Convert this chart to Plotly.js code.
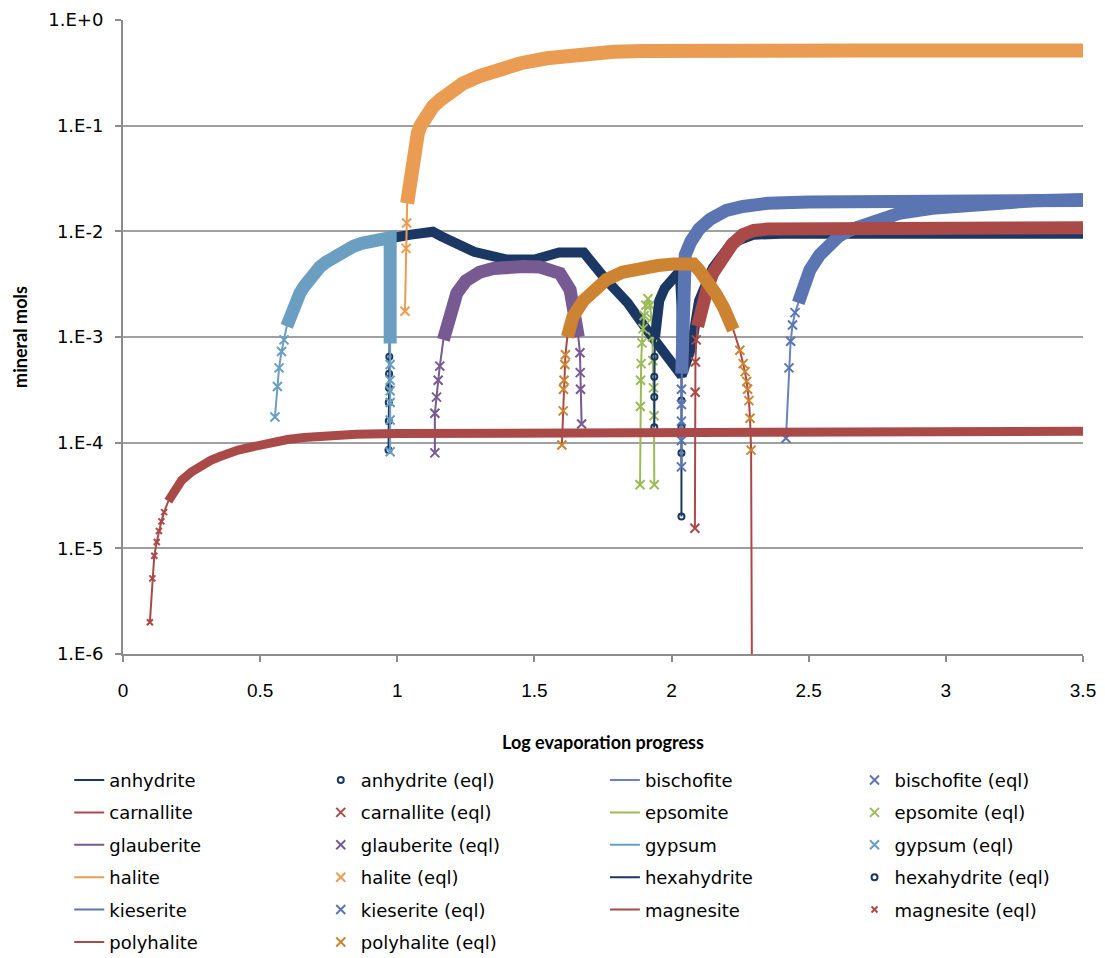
<!DOCTYPE html>
<html><head><meta charset="utf-8">
<script src="https://cdn.plot.ly/plotly-3.0.1.min.js"></script>
<style>body{margin:0;background:#fff}#chart{width:1105px;height:958px}</style>
</head><body><div id="chart"></div>
<script>
// ---- data ----
const yTickVals = [1, 0.1, 0.01, 0.001, 0.0001, 0.00001, 0.000001];
const yTickText = ['1.E+0', '1.E-1', '1.E-2', '1.E-3', '1.E-4', '1.E-5', '1.E-6'];

const anhydriteX = [0.968, 0.969, 0.969, 0.970, 0.970, 0.971, 0.972, 0.973, 0.975, 1.05, 1.13, 1.16, 1.28, 1.40, 1.50, 1.59, 1.68, 1.76, 1.84, 1.91, 1.98, 2.037, 2.073, 2.10, 2.15, 2.22, 2.30, 2.40, 3.0, 3.5];
const anhydriteY = [8.5e-5, 1.6e-4, 2.4e-4, 3.3e-4, 4.5e-4, 6.5e-4, 1.0e-3, 3.0e-3, 8.6e-3, 9.3e-3, 9.9e-3, 9.0e-3, 6.4e-3, 5.4e-3, 5.4e-3, 6.3e-3, 6.3e-3, 3.5e-3, 2.1e-3, 1.17e-3, 7.0e-4, 4.3e-4, 8.1e-4, 2.2e-3, 4.5e-3, 7.8e-3, 9.3e-3, 9.5e-3, 9.5e-3, 9.5e-3];

const bischofiteX = [2.417, 2.428, 2.434, 2.441, 2.45, 2.462, 2.48, 2.504, 2.54, 2.577, 2.61, 2.65, 2.74, 2.83, 2.95, 3.076, 3.2, 3.32, 3.5];
const bischofiteY = [1.1e-4, 5.1e-4, 9.1e-4, 1.3e-3, 1.7e-3, 2.1e-3, 3.0e-3, 4.3e-3, 6.0e-3, 7.7e-3, 9.0e-3, 1.03e-2, 1.27e-2, 1.48e-2, 1.65e-2, 1.78e-2, 1.88e-2, 1.95e-2, 2.0e-2];

const carnalliteX = [2.085, 2.086, 2.087, 2.09, 2.095, 2.11, 2.13, 2.15, 2.18, 2.22, 2.26, 2.30, 2.35, 2.6, 3.0, 3.5];
const carnalliteY = [1.55e-5, 3.0e-4, 5.8e-4, 9.4e-4, 1.26e-3, 1.9e-3, 2.9e-3, 4.0e-3, 5.4e-3, 7.5e-3, 9.3e-3, 1.02e-2, 1.05e-2, 1.06e-2, 1.07e-2, 1.08e-2];

const epsomiteX = [1.885, 1.886, 1.887, 1.889, 1.892, 1.896, 1.900, 1.906, 1.914, 1.922, 1.927, 1.930, 1.932, 1.934, 1.936, 1.937];
const epsomiteY = [4.0e-5, 2.2e-4, 3.9e-4, 5.6e-4, 8.8e-4, 1.2e-3, 1.6e-3, 2.0e-3, 2.3e-3, 2.0e-3, 1.5e-3, 1.0e-3, 6.0e-4, 3.3e-4, 1.8e-4, 4.0e-5];

const glauberiteX = [1.137, 1.137, 1.143, 1.149, 1.155, 1.168, 1.19, 1.217, 1.25, 1.30, 1.35, 1.399, 1.46, 1.52, 1.56, 1.593, 1.63, 1.642, 1.66, 1.666, 1.667, 1.668, 1.672];
const glauberiteY = [8.0e-5, 1.9e-4, 2.7e-4, 3.9e-4, 5.3e-4, 9.4e-4, 1.6e-3, 2.6e-3, 3.4e-3, 4.1e-3, 4.45e-3, 4.6e-3, 4.65e-3, 4.6e-3, 4.4e-3, 4.0e-3, 2.8e-3, 1.7e-3, 1.0e-3, 7.1e-4, 4.6e-4, 3.2e-4, 1.5e-4];

const gypsumX = [0.554, 0.563, 0.569, 0.578, 0.587, 0.597, 0.607, 0.620, 0.630, 0.645, 0.660, 0.68, 0.70, 0.718, 0.74, 0.78, 0.81, 0.839, 0.87, 0.90, 0.93, 0.961, 0.974, 0.974, 0.974, 0.974, 0.974, 0.974, 0.974, 0.974, 0.974];
const gypsumY = [1.75e-4, 3.4e-4, 5.1e-4, 7.3e-4, 9.4e-4, 1.26e-3, 1.5e-3, 1.9e-3, 2.2e-3, 2.6e-3, 3.0e-3, 3.6e-3, 4.1e-3, 4.6e-3, 5.1e-3, 6.0e-3, 6.6e-3, 7.2e-3, 7.7e-3, 8.0e-3, 8.3e-3, 8.6e-3, 8.7e-3, 3.0e-3, 8.7e-4, 5.5e-4, 3.9e-4, 3.1e-4, 2.4e-4, 1.64e-4, 8.2e-5];

const haliteX = [1.028, 1.032, 1.034, 1.036, 1.040, 1.045, 1.052, 1.058, 1.065, 1.075, 1.085, 1.095, 1.11, 1.13, 1.156, 1.19, 1.24, 1.30, 1.362, 1.45, 1.545, 1.65, 1.788, 1.90, 2.03, 2.3, 2.7, 3.1, 3.5];
const haliteY = [1.75e-3, 6.9e-3, 1.2e-2, 1.84e-2, 2.3e-2, 3.0e-2, 4.1e-2, 5.3e-2, 6.8e-2, 8.5e-2, 0.10, 0.113, 0.133, 0.152, 0.175, 0.21, 0.252, 0.295, 0.336, 0.39, 0.434, 0.47, 0.50, 0.51, 0.515, 0.515, 0.515, 0.515, 0.515];

const hexahydriteX = [1.937, 1.937, 1.937, 1.938, 1.94, 1.945, 1.955, 1.975, 2.005, 2.03, 2.036, 2.036, 2.036, 2.036, 2.036, 2.036];
const hexahydriteY = [1.4e-4, 2.7e-4, 4.2e-4, 6.5e-4, 1.0e-3, 1.6e-3, 2.2e-3, 2.9e-3, 3.6e-3, 4.2e-3, 2.0e-3, 5.0e-4, 2.5e-4, 1.4e-4, 8.0e-5, 2.0e-5];

const kieseriteX = [2.036, 2.036, 2.036, 2.036, 2.036, 2.037, 2.038, 2.04, 2.05, 2.07, 2.10, 2.14, 2.20, 2.26, 2.35, 2.5, 2.8, 3.2, 3.5];
const kieseriteY = [5.9e-5, 1.05e-4, 1.6e-4, 2.3e-4, 3.2e-4, 4.5e-4, 1.5e-3, 4.0e-3, 6.0e-3, 8.0e-3, 1.05e-2, 1.30e-2, 1.58e-2, 1.72e-2, 1.84e-2, 1.90e-2, 1.93e-2, 1.95e-2, 1.96e-2];

const magnesiteX = [0.098, 0.107, 0.114, 0.123, 0.131, 0.14, 0.15, 0.165, 0.19, 0.214, 0.25, 0.29, 0.32, 0.354, 0.385, 0.42, 0.46, 0.5, 0.55, 0.6, 0.66, 0.72, 0.8, 0.85, 1.0, 1.5, 2.0, 2.5, 3.0, 3.5];
const magnesiteY = [2.0e-6, 5.2e-6, 8.5e-6, 1.15e-5, 1.46e-5, 1.8e-5, 2.2e-5, 2.8e-5, 3.6e-5, 4.4e-5, 5.3e-5, 6.2e-5, 6.8e-5, 7.4e-5, 8.0e-5, 8.5e-5, 9.0e-5, 9.5e-5, 1.01e-4, 1.07e-4, 1.12e-4, 1.16e-4, 1.19e-4, 1.2e-4, 1.22e-4, 1.24e-4, 1.25e-4, 1.26e-4, 1.27e-4, 1.28e-4];

const polyhaliteX = [1.600, 1.605, 1.606, 1.608, 1.611, 1.613, 1.62, 1.64, 1.678, 1.72, 1.763, 1.82, 1.885, 1.95, 2.006, 2.08, 2.10, 2.128, 2.16, 2.19, 2.225, 2.249, 2.261, 2.268, 2.274, 2.277, 2.282, 2.286, 2.290, 2.294];
const polyhaliteY = [9.5e-5, 2.0e-4, 3.2e-4, 3.9e-4, 5.5e-4, 6.8e-4, 1.0e-3, 1.55e-3, 2.2e-3, 2.9e-3, 3.5e-3, 4.1e-3, 4.5e-3, 4.75e-3, 4.9e-3, 4.9e-3, 4.3e-3, 3.5e-3, 2.6e-3, 1.9e-3, 1.17e-3, 7.5e-4, 5.6e-4, 4.7e-4, 3.8e-4, 3.2e-4, 2.5e-4, 1.7e-4, 8.5e-5, 1e-7];

// ---- drawing ----
const NAVY = '#1B3763', RED = '#A94A48', PURPLE = '#775A92', ORANGE = '#EA9C53',
      BLUE = '#5B75B2', BLUE2 = '#6A82C0', GREEN = '#9BBB59', LBLUE = '#6A9FC2', DORANGE = '#CC8433';

const traces = [];
function addMineral(name, x, y, band, o) {
  traces.push({type: 'scatter', mode: 'lines', name: name, x: x, y: y,
    line: {color: o.lineColor, width: 2}, legend: o.lineLegend, legendgroup: name + '_l', hoverinfo: 'skip'});
  if (band) {
    traces.push({type: 'scatter', mode: 'lines', x: x.slice(band[0], band[1] + 1), y: y.slice(band[0], band[1] + 1),
      line: {color: o.eqlColor, width: o.bandWidth || 13}, showlegend: false, hoverinfo: 'skip'});
  }
  const mx = [], my = [];
  x.forEach((v, i) => { if (!band || i < band[0] || i > band[1]) { mx.push(v); my.push(y[i]); } });
  traces.push({type: 'scatter', mode: 'markers', name: name + ' (eql)', x: mx, y: my,
    marker: {symbol: o.symbol, size: o.size, color: o.eqlColor, line: {color: o.eqlColor, width: 2}},
    legend: o.eqlLegend, legendgroup: name + '_e', hoverinfo: 'skip'});
}
const X = 'x-thin-open', C = 'circle-open';
addMineral('anhydrite', anhydriteX, anhydriteY, [6, 29], {lineColor: NAVY, eqlColor: NAVY, symbol: C, size: 6, lineLegend: 'legend', eqlLegend: 'legend2', bandWidth: 10});
addMineral('bischofite', bischofiteX, bischofiteY, [5, 18], {lineColor: BLUE2, eqlColor: BLUE, symbol: X, size: 9, lineLegend: 'legend3', eqlLegend: 'legend4'});
addMineral('carnallite', carnalliteX, carnalliteY, [4, 15], {lineColor: RED, eqlColor: RED, symbol: X, size: 9, lineLegend: 'legend', eqlLegend: 'legend2'});
addMineral('epsomite', epsomiteX, epsomiteY, null, {lineColor: GREEN, eqlColor: GREEN, symbol: X, size: 9, lineLegend: 'legend3', eqlLegend: 'legend4'});
addMineral('glauberite', glauberiteX, glauberiteY, [5, 18], {lineColor: PURPLE, eqlColor: PURPLE, symbol: X, size: 9, lineLegend: 'legend', eqlLegend: 'legend2'});
addMineral('gypsum', gypsumX, gypsumY, [5, 24], {lineColor: LBLUE, eqlColor: LBLUE, symbol: X, size: 9, lineLegend: 'legend3', eqlLegend: 'legend4'});
addMineral('halite', haliteX, haliteY, [3, 28], {lineColor: ORANGE, eqlColor: ORANGE, symbol: X, size: 9, lineLegend: 'legend', eqlLegend: 'legend2', bandWidth: 14});
addMineral('hexahydrite', hexahydriteX, hexahydriteY, [4, 11], {lineColor: NAVY, eqlColor: NAVY, symbol: C, size: 6, lineLegend: 'legend3', eqlLegend: 'legend4', bandWidth: 10});
addMineral('kieserite', kieseriteX, kieseriteY, [5, 18], {lineColor: BLUE, eqlColor: BLUE, symbol: X, size: 9, lineLegend: 'legend', eqlLegend: 'legend2'});
addMineral('magnesite', magnesiteX, magnesiteY, [7, 29], {lineColor: RED, eqlColor: RED, symbol: X, size: 6, lineLegend: 'legend3', eqlLegend: 'legend4', bandWidth: 9});
addMineral('polyhalite', polyhaliteX, polyhaliteY, [6, 20], {lineColor: RED, eqlColor: DORANGE, symbol: X, size: 9, lineLegend: 'legend', eqlLegend: 'legend2'});

const legFont = {family: 'DejaVu Sans, sans-serif', size: 18, color: '#000'};
function leg(x) {
  return {x: x, xanchor: 'left', y: -0.170, yanchor: 'top', orientation: 'v', font: legFont,
    bgcolor: 'rgba(0,0,0,0)', tracegroupgap: 6, itemclick: false, itemdoubleclick: false};
}

const layout = {
  width: 1105, height: 958,
  margin: {l: 123, r: 22, t: 20, b: 304, autoexpand: false},
  paper_bgcolor: '#fff', plot_bgcolor: '#fff',
  font: {family: 'DejaVu Sans, sans-serif', color: '#000'},
  xaxis: {
    range: [0, 3.5], tick0: 0, dtick: 0.5, ticks: 'outside', ticklen: 6, tickwidth: 2, tickcolor: '#8C8C8C',
    showline: true, linecolor: '#8C8C8C', linewidth: 2, showgrid: false, zeroline: false,
    tickfont: {family: 'Liberation Sans Narrow, Liberation Sans, sans-serif', size: 19, color: '#000'},
    ticklabelstandoff: 12,
    title: {text: 'Log evaporation progress', font: {family: 'Lato, sans-serif', size: 18, weight: 'bold', color: '#000'}, standoff: 37}
  },
  yaxis: {
    type: 'log', range: [-6, 0], tickvals: yTickVals, ticktext: yTickText,
    ticks: 'outside', ticklen: 6, tickwidth: 2, tickcolor: '#8C8C8C',
    showline: true, linecolor: '#8C8C8C', linewidth: 2, showgrid: true, gridcolor: '#A0A0A0', gridwidth: 2, zeroline: false,
    tickfont: {family: 'DejaVu Sans, sans-serif', size: 18, color: '#000'},
    ticklabelstandoff: 8,
    title: {text: 'mineral mols', font: {family: 'Lato, sans-serif', size: 18, weight: 'bold', color: '#000'}, standoff: 16}
  },
  legend: leg(-0.056),
  legend2: leg(0.206),
  legend3: leg(0.502),
  legend4: leg(0.762),
  showlegend: true
};

Plotly.newPlot('chart', traces, layout, {staticPlot: true, displayModeBar: false});
</script>
</body></html>
